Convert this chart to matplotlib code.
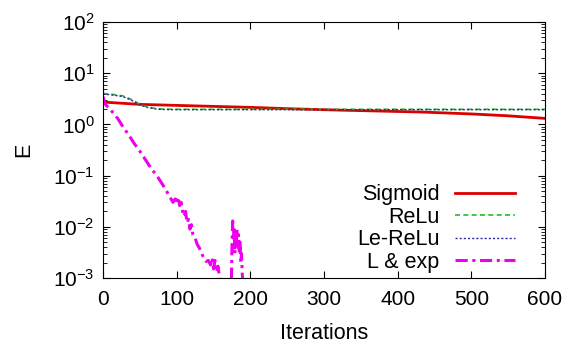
import matplotlib
matplotlib.use("Agg")
import matplotlib.pyplot as plt
from matplotlib.ticker import LogLocator, NullFormatter

plt.rcParams["font.family"] = ["Liberation Sans", "DejaVu Sans"]
plt.rcParams["mathtext.fontset"] = "custom"
plt.rcParams["mathtext.rm"] = "Liberation Sans"
plt.rcParams["mathtext.it"] = "Liberation Sans:italic"

# Sigmoid
sig_x = [0, 50, 100, 200, 254, 321, 434, 500, 550, 600]
sig_y = [2.73, 2.46, 2.35, 2.15, 2.02, 1.9, 1.74, 1.6, 1.47, 1.31]

# ReLu
relu_x = [0, 10, 27, 40, 50, 60, 73, 85, 96, 150, 300, 450, 600]
relu_y = [4.0, 3.9, 3.6, 3.0, 2.46, 2.2, 2.02, 1.98, 1.97, 1.97, 1.97, 1.97, 1.97]

# Le-ReLu
lrelu_x = [0, 10, 27, 40, 50, 60, 73, 85, 96, 150, 300, 450, 600]
lrelu_y = [3.9, 3.8, 3.5, 2.9, 2.4, 2.15, 1.98, 1.95, 1.94, 1.94, 1.94, 1.94, 1.94]

# L & exp
lexp_x = [0, 2, 5, 10, 15, 20, 27, 35, 42, 50, 58, 65, 73, 80, 88, 95, 98,
          100, 102, 104, 106, 108, 110, 112, 114, 116, 118, 120, 122, 125,
          128, 131, 134, 137, 140, 143, 146, 148, 150, 152, 154, 156, 158,
          160, 162, 165, 170, 174, 175, 176, 177, 178, 179, 180, 181, 182,
          183, 184, 185, 186, 187, 188, 189, 190, 192]
lexp_y = [3.5, 2.6, 2.3, 1.95, 1.6, 1.3, 0.9, 0.62, 0.43, 0.3, 0.2, 0.14,
          0.1, 0.07, 0.045, 0.03, 0.035, 0.028, 0.038, 0.026, 0.03, 0.02,
          0.016, 0.02, 0.012, 0.014, 0.009, 0.011, 0.007, 0.006, 0.0045,
          0.0038, 0.003, 0.0024, 0.0021, 0.0022, 0.0018, 0.0025, 0.0015,
          0.0022, 0.0013, 0.0017, 0.0011, 0.0008, 0.0005, 0.0003, 0.0003,
          0.0004, 0.004, 0.013, 0.006, 0.01, 0.003, 0.008, 0.005, 0.009,
          0.004, 0.007, 0.003, 0.005, 0.002, 0.003, 0.0012, 0.0008, 0.0003]

fig = plt.figure(figsize=(5.66, 3.55), dpi=100)
ax = fig.add_axes([0.182, 0.217, 0.781, 0.721])

ax.plot(sig_x, sig_y, color="#dd0000", lw=2.0, label="Sigmoid")
ax.plot(relu_x, relu_y, color="#22bb22", lw=1.2, ls=(0, (3, 2)), label="ReLu")
ax.plot(lrelu_x, lrelu_y, color="#2a2aa0", lw=1.0, ls=(0, (1.5, 1.5)), label="Le-ReLu")
ax.plot(lexp_x, lexp_y, color="#ee00ee", lw=2.2, ls=(0, (4, 1.5, 1, 1.5)), label="L & exp")

ax.set_yscale("log")
ax.set_xlim(0, 600)
ax.set_ylim(1e-3, 1e2)
ax.set_xticks([0, 100, 200, 300, 400, 500, 600])
ax.yaxis.set_major_locator(LogLocator(base=10, numticks=10))
ax.yaxis.set_minor_locator(LogLocator(base=10, subs=range(2, 10), numticks=20))
ax.yaxis.set_minor_formatter(NullFormatter())
ax.tick_params(which="both", direction="in", top=True, right=True, labelsize=15)
ax.tick_params(which="major", length=5)
ax.tick_params(which="minor", length=3)
ax.tick_params(axis="x", pad=9)
ax.tick_params(axis="y", pad=6)

ax.set_xlabel("Iterations", fontsize=15.5, labelpad=10)
ax.set_ylabel("E", fontsize=15.5, labelpad=14)

ax.legend(loc="lower right", bbox_to_anchor=(0.932, 0.02), frameon=False,
          markerfirst=False, fontsize=15.5, handlelength=2.8, handletextpad=0.7,
          labelspacing=0.07, borderpad=0, borderaxespad=0)

fig.savefig("out.png", dpi=100)
